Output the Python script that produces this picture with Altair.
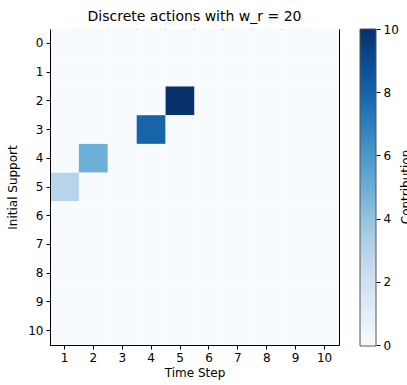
import altair as alt
import pandas as pd

# Grid dimensions
time_steps = list(range(1, 11))
supports = list(range(0, 11))

# Non-zero contributions (time step, initial support, value)
active_steps = [1, 2, 4, 5]
active_supports = [5, 4, 3, 2]
active_values = [3, 5, 8, 10]

# Colour bar settings
colorbar_ticks = [0, 2, 4, 6, 8, 10]
colorbar_label = "Contribution"

# matplotlib "Blues" colour stops
blues = ["#f7fbff", "#deebf7", "#c6dbef", "#9ecae1", "#6baed6",
         "#4292c6", "#2171b5", "#08519c", "#08306b"]

lookup = {(s, r): v for s, r, v in zip(active_steps, active_supports, active_values)}
rows = [{"step": s, "support": r, "value": lookup.get((s, r), 0)}
        for r in supports for s in time_steps]
df = pd.DataFrame(rows)

font = "DejaVu Sans"
W, H = 289, 316
CB_GAP, CB_W = 21, 16

heat = alt.Chart(df).mark_rect(strokeWidth=0).encode(
    x=alt.X("step:O", sort=time_steps, title="Time Step",
            scale=alt.Scale(paddingInner=0, paddingOuter=0),
            axis=alt.Axis(labelAngle=0, domain=True, domainColor="#000", domainWidth=1,
                          tickSize=4, tickColor="#000", labelPadding=3,
                          labelColor="#000", labelFont=font, labelFontSize=12,
                          titleFont=font, titleFontSize=12, titleFontWeight="normal",
                          titleColor="#000", titlePadding=4)),
    y=alt.Y("support:O", sort=supports, title="Initial Support",
            scale=alt.Scale(paddingInner=0, paddingOuter=0),
            axis=alt.Axis(domain=True, domainColor="#000", domainWidth=1,
                          tickSize=4, tickColor="#000", labelPadding=3,
                          labelColor="#000", labelFont=font, labelFontSize=12,
                          titleFont=font, titleFontSize=12, titleFontWeight="normal",
                          titleColor="#000", titlePadding=8)),
    color=alt.Color("value:Q", title=None,
                    scale=alt.Scale(domain=[i * 10 / 8 for i in range(9)], range=blues,
                                    type="linear"),
                    legend=alt.Legend(orient="none", legendX=W + CB_GAP, legendY=0,
                                      padding=0, values=[],
                                      gradientLength=H + 1, gradientThickness=CB_W,
                                      gradientStrokeColor="#555", gradientStrokeWidth=1,
                                      direction="vertical"))
)

# Colour bar ticks and labels, on a value axis aligned with the gradient
cbar_axis = alt.Chart(pd.DataFrame({"v": colorbar_ticks})).mark_point(opacity=0).encode(
    y=alt.Y("v:Q", scale=alt.Scale(domain=[0, 10], nice=False, zero=False),
            axis=alt.Axis(orient="right", offset=CB_GAP + CB_W, values=colorbar_ticks,
                          title=None, domain=False, grid=False, tickSize=4,
                          tickColor="#000", labelPadding=3, labelColor="#000",
                          labelFont=font, labelFontSize=12, labelFlush=False))
)

cbar_title = alt.Chart(pd.DataFrame({"t": [colorbar_label]})).mark_text(
    font=font, fontSize=12, color="#000", angle=270, align="center", baseline="top"
).encode(text="t:N", x=alt.value(W + 62), y=alt.value(H / 2))

chart = alt.layer(heat, cbar_axis, cbar_title).resolve_scale(y="independent").properties(
    width=W, height=H,
    title=alt.TitleParams("Discrete actions with w_r = 20", font=font, fontSize=14,
                          fontWeight="normal", color="#000", offset=-1),
    autosize=alt.AutoSizeParams(type="none"),
    padding={"left": 50, "top": 29, "right": 68, "bottom": 40},
).configure_view(stroke="#000", strokeWidth=1)

chart.save("out.html", embed_options={"renderer": "svg", "actions": False})
